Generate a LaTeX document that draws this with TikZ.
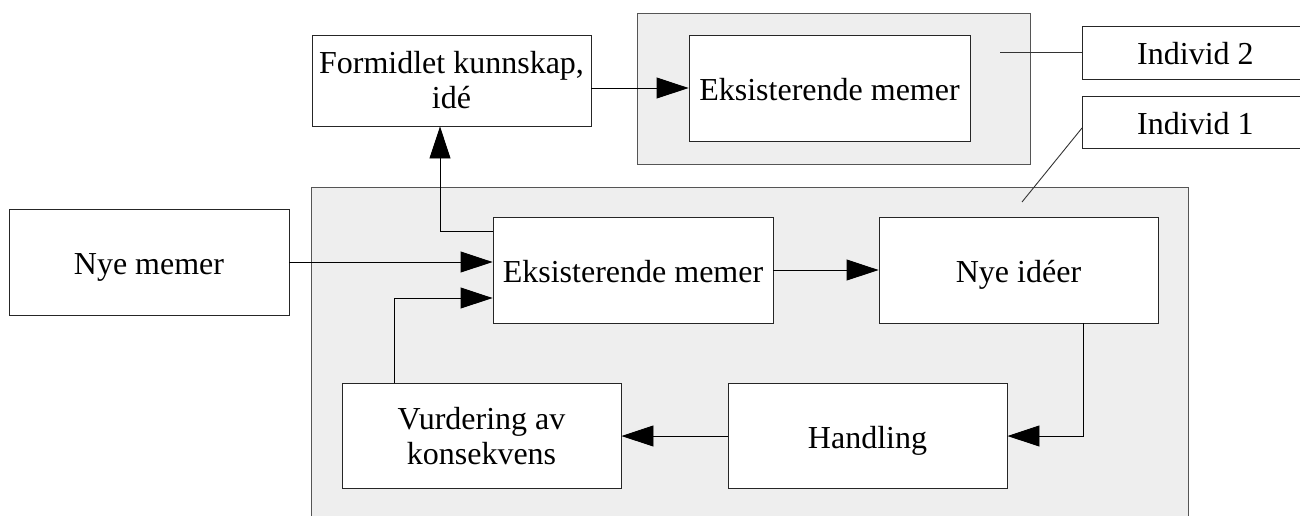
\documentclass[tikz,border=0pt]{standalone}
\usepackage{fontspec}
\setmainfont{Liberation Serif}
\usetikzlibrary{arrows.meta}
\definecolor{panel}{HTML}{EEEEEE}
\definecolor{panelline}{HTML}{555555}
\begin{document}
\begin{tikzpicture}[x=1pt,y=-1pt,
  box/.style={draw=black!85, line width=0.9pt, fill=white, rectangle, inner sep=0pt,
    align=center, font=\fontsize{32}{35}\selectfont},
  oneline/.style={text height=24pt, text depth=0pt},
  panelbox/.style={draw=panelline, line width=0.9pt, fill=panel},
  arr/.style={line width=0.9pt, -{Triangle[length=32pt,width=21pt]}},
  lead/.style={line width=0.9pt, draw=black!80}]
\useasboundingbox (0,0) rectangle (1300,515);
\clip (0,0) rectangle (1300,515);

% grey panels for the two individuals
\path[panelbox] (637,13) rectangle (1030,164);
\path[panelbox] (311,187) rectangle (1188,540);

% boxes
\node[box, minimum width=279pt, minimum height=91pt] (form) at (451.5,80.5) {Formidlet kunnskap,\\id\'e};
\node[box, oneline, minimum width=281pt, minimum height=106pt] (eks2) at (829.5,88) {Eksisterende memer};
\node[box, oneline, minimum width=226pt, minimum height=53pt, anchor=west] (ind2) at (1082,52.5) {Individ 2};
\node[box, oneline, minimum width=226pt, minimum height=52pt, anchor=west] (ind1) at (1082,122) {Individ 1};
\node[box, oneline, minimum width=280pt, minimum height=106pt] (nyem) at (149,262) {Nye memer};
\node[box, oneline, minimum width=280pt, minimum height=106pt] (eks1) at (633,270) {Eksisterende memer};
\node[box, oneline, minimum width=279pt, minimum height=106pt] (nyi) at (1018.5,270) {Nye id\'eer};
\node[box, minimum width=279pt, minimum height=105pt] (vurd) at (481.5,436) {Vurdering av\\konsekvens};
\node[box, oneline, minimum width=279pt, minimum height=105pt] (hand) at (867.5,436) {Handling};

% label leaders
\coordinate (p2) at (1000,52.5);
\coordinate (p1) at (1022,202);
\draw[lead] (p2) -- (ind2.west);
\draw[lead] ([yshift=-6pt]ind1.west) -- (p1);

% connectors
\draw[arr] (form.east |- eks2.west) -- (eks2.west);
\draw[arr] ([yshift=-15pt]eks1.north west) -| ([xshift=-11.5pt]form.south);
\draw[arr] (nyem.east) -- (nyem.east -| eks1.west);
\draw[arr] ([xshift=53pt]vurd.north west) |- ([yshift=-28pt]eks1.west);
\draw[arr] (eks1.east) -- (nyi.west);
\draw[arr] ([xshift=64.5pt]nyi.south) |- (hand.east);
\draw[arr] (hand.west) -- (vurd.east);
\end{tikzpicture}
\end{document}
